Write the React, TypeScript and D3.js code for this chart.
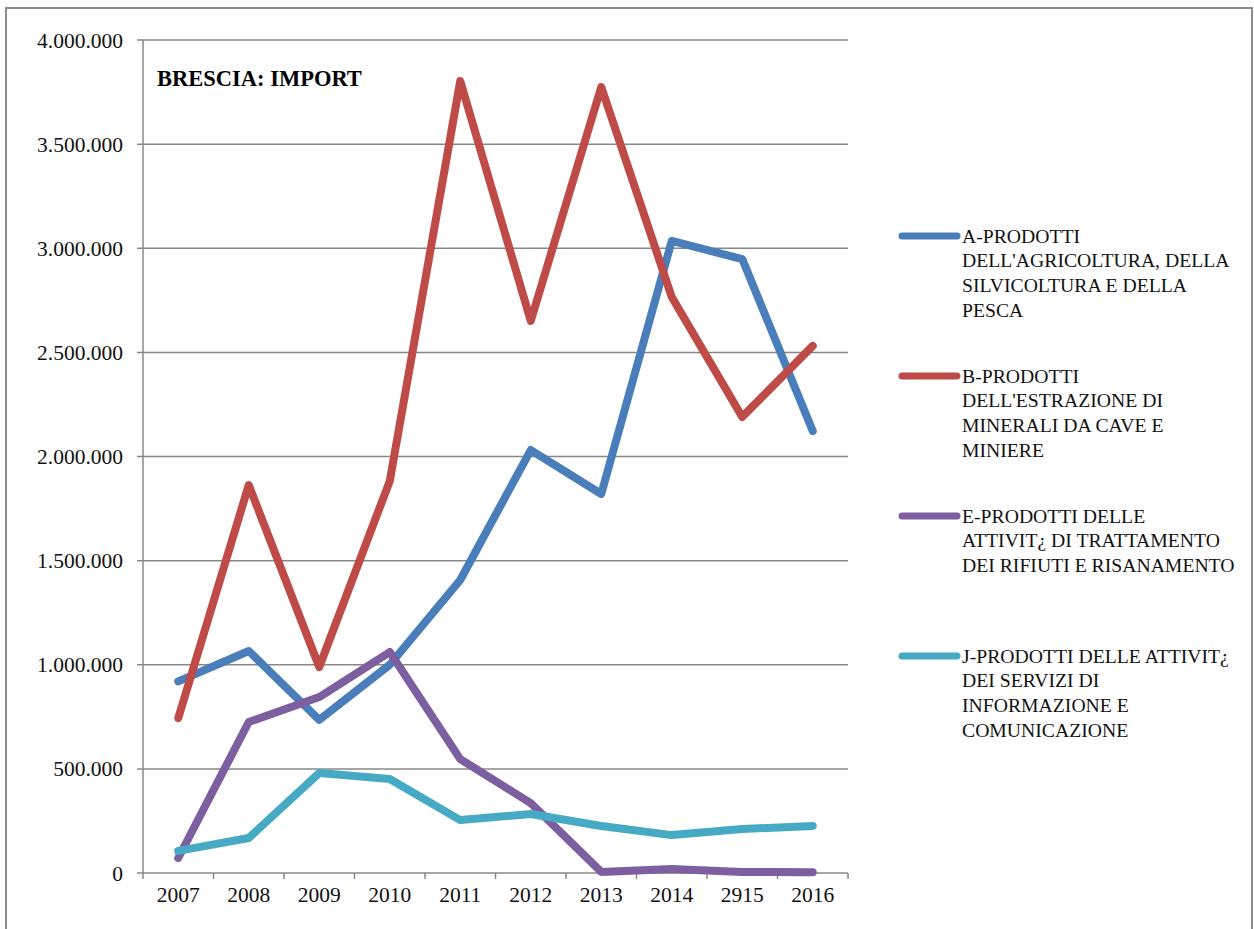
import React from 'react';
import * as d3 from 'd3';

// years as printed on the original axis (typo "2915" kept)
const years = ['2007', '2008', '2009', '2010', '2011', '2012', '2013', '2014', '2915', '2016'];

const seriesA = [920000, 1066000, 735000, 1000000, 1407000, 2031000, 1820000, 3035000, 2948000, 2122000];
const seriesB = [744000, 1863000, 989000, 1882000, 3803000, 2651000, 3774000, 2766000, 2190000, 2531000];
const seriesE = [72000, 725000, 845000, 1061000, 547000, 336000, 5000, 19000, 5000, 4000];
const seriesJ = [106000, 168000, 480000, 451000, 254000, 283000, 226000, 182000, 211000, 226000];

const seriesNames = [
  ['A-PRODOTTI', "DELL'AGRICOLTURA, DELLA", 'SILVICOLTURA E DELLA', 'PESCA'],
  ['B-PRODOTTI', "DELL'ESTRAZIONE DI", 'MINERALI DA CAVE E', 'MINIERE'],
  ['E-PRODOTTI DELLE', 'ATTIVIT¿ DI TRATTAMENTO', 'DEI RIFIUTI E RISANAMENTO'],
  ['J-PRODOTTI DELLE ATTIVIT¿', 'DEI SERVIZI DI', 'INFORMAZIONE E', 'COMUNICAZIONE'],
];

const yTicks = [0, 500000, 1000000, 1500000, 2000000, 2500000, 3000000, 3500000, 4000000];

const colors = ['#4a7ebb', '#be4b48', '#7d5fa0', '#46aac5'];

const allSeries = [seriesA, seriesB, seriesE, seriesJ];

const App = () => {
  const width = 1254;
  const height = 929;
  const margin = { top: 40, left: 143, right: 406, bottom: 56 };
  const plotRight = width - margin.right;
  const plotBottom = height - margin.bottom;

  const locale = d3.formatLocale({ decimal: ',', thousands: '.', grouping: [3], currency: ['€', ''] });
  const fmt = locale.format(',d');

  const xScale = d3.scaleBand().domain(years).range([margin.left, plotRight]).padding(0);
  const yScale = d3.scaleLinear().domain([0, 4000000]).range([plotBottom, margin.top]);

  const line = d3.line<number>()
    .x((_, i) => (xScale(years[i]) as number) + xScale.bandwidth() / 2)
    .y((d) => yScale(d));

  const gridColor = '#888888';
  const font = '"Liberation Serif", "Times New Roman", serif';

  const legendX = 902;
  const legendTop = 236;
  const legendGap = 140;
  const lineH = 24.6;

  return (
    <svg width={width} height={height} style={{ position: 'absolute', left: 0, top: 0, background: '#fff' }}>
      {/* outer chart frame */}
      <rect x={6} y={8} width={1246} height={940} fill="#fff" stroke="#8c8c8c" strokeWidth={2} />

      {/* gridlines + y ticks */}
      {yTicks.map((t) => (
        <g key={t}>
          <line x1={margin.left - 6} x2={plotRight} y1={yScale(t)} y2={yScale(t)} stroke={gridColor} strokeWidth={1.5} />
          <text x={123} y={yScale(t)} dy="0.35em" textAnchor="end" fontFamily={font} fontSize={21.5} fill="#111">
            {fmt(t)}
          </text>
        </g>
      ))}

      {/* y axis */}
      <line x1={margin.left} x2={margin.left} y1={margin.top} y2={plotBottom} stroke={gridColor} strokeWidth={1.5} />

      {/* x ticks */}
      {years.concat(['end']).map((y, i) => {
        const x = margin.left + i * xScale.bandwidth();
        return <line key={y} x1={x} x2={x} y1={plotBottom} y2={plotBottom + 6} stroke={gridColor} strokeWidth={1.5} />;
      })}
      {years.map((y) => (
        <text key={y} x={(xScale(y) as number) + xScale.bandwidth() / 2} y={902} textAnchor="middle" fontFamily={font} fontSize={21.5} fill="#111">
          {y}
        </text>
      ))}

      {/* series lines */}
      {allSeries.map((s, i) => (
        <path key={i} d={line(s) || ''} fill="none" stroke={colors[i]} strokeWidth={8} strokeLinejoin="round" strokeLinecap="round" />
      ))}

      {/* title */}
      <text x={157} y={86} fontFamily={font} fontSize={22.5} fontWeight="bold" fill="#000">BRESCIA: IMPORT</text>

      {/* legend */}
      {seriesNames.map((lines, i) => {
        const y0 = legendTop + i * legendGap;
        return (
          <g key={i}>
            <line x1={legendX} x2={legendX + 55} y1={y0} y2={y0} stroke={colors[i]} strokeWidth={7} strokeLinecap="round" />
            {lines.map((l, j) => (
              <text key={j} x={962} y={y0 + j * lineH} dy="0.35em" fontFamily={font} fontSize={19.7} fill="#111">
                {l}
              </text>
            ))}
          </g>
        );
      })}
    </svg>
  );
};

export default App;
